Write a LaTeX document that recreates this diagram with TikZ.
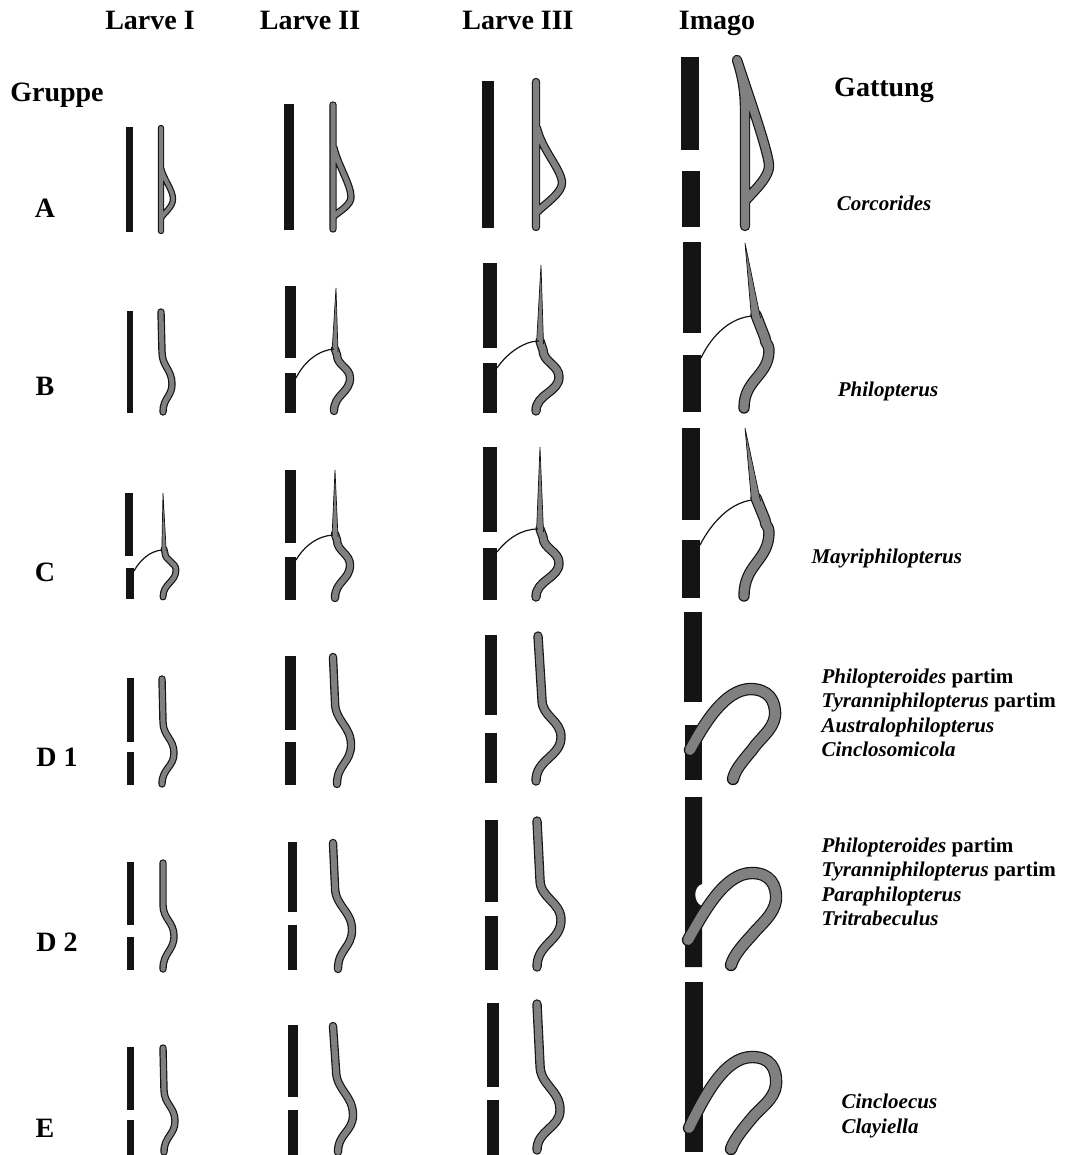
\documentclass[tikz,border=0pt]{standalone}
\usepackage{fontspec}
\setmainfont{Liberation Serif}
\definecolor{ink}{gray}{0.08}
\definecolor{stip}{gray}{0.5}

% one stippled strand: black rim first, grey core on top
\newcommand\strand[2]{%
  \draw[ink, line width=\dimexpr#1+2.4pt\relax, line cap=round, line join=round] #2;
  \draw[stip, line width=#1, line cap=round, line join=round] #2;}
% S-shaped strand: width, top, start of bend, bulge, end
\newcommand\sbend[9]{%
  \strand{#1}{(#2,#3) -- (#4,#5) .. controls (#4,{#5+0.45*(#7-#5)}) and (#6,{#7-0.45*(#7-#5)}) .. (#6,#7)
    .. controls (#6,{#7+0.45*(#9-#7)}) and (#8,{#9-0.5*(#9-#7)}) .. (#8,#9)}}
% thin tapering tip above a junction
\newcommand\taper[5]{\filldraw[fill=stip, draw=ink, line width=0.7pt] ({#3-#5},#4) -- (#1,#2) -- ({#3+#5},#4);}

\tikzset{
  head/.style={font=\fontsize{28}{30}\selectfont\bfseries},
  genus/.style={font=\fontsize{21}{24.5}\selectfont\bfseries, align=left},
  pillar/.style={fill=ink},
  link/.style={ink, line width=1.2pt},
}

\begin{document}
\begin{tikzpicture}[x=1pt, y=-1pt]
\useasboundingbox (0,0) rectangle (1067,1155);

% column and row headings
\node[head, anchor=base] (larve1) at (150,30) {Larve I};
\node[head, anchor=base] (larve2) at (310,30) {Larve II};
\node[head, anchor=base] (larve3) at (518,30) {Larve III};
\node[head, anchor=base] (imago) at (717,30) {Imago};
\node[head, anchor=base] (gruppe) at (57,102) {Gruppe};
\node[head, anchor=base] (gattung) at (884,97) {Gattung};
\node[head] (grA) at (45,208) {A};
\node[head] (grB) at (45,386) {B};
\node[head] (grC) at (45,572) {C};
\node[head] (grD1) at (57,757) {D 1};
\node[head] (grD2) at (57,942) {D 2};
\node[head] (grE) at (45,1128) {E};

% genera
\node[genus] (corc) at (884,203) {\textit{Corcorides}};
\node[genus] (phil) at (888,391) {\textit{Philopterus}};
\node[genus, anchor=west] (mayr) at (808,558) {\textit{Mayriphilopterus}};
\node[genus, anchor=west] (dA) at (818,713) {\textit{Philopteroides} partim\\\textit{Tyranniphilopterus} partim\\\textit{Australophilopterus}\\\textit{Cinclosomicola}};
\node[genus, anchor=west] (dB) at (818,882) {\textit{Philopteroides} partim\\\textit{Tyranniphilopterus} partim\\\textit{Paraphilopterus}\\\textit{Tritrabeculus}};
\node[genus, anchor=west] (gE) at (838,1116) {\textit{Cincloecus}\\\textit{Clayiella}};

% --- A
\fill[pillar] (126,127) rectangle (133,232);
\strand{4pt}{(161,128) -- (161,231) (161,168) .. controls (164,180) and (173,190) .. (173,199) .. controls (173,207) and (164,213) .. (161,218)}
\fill[pillar] (284,104) rectangle (294,230);
\strand{5pt}{(333,105) -- (333,229) (334,148) .. controls (338,165) and (351,185) .. (351,197) .. controls (351,205) and (340,211) .. (334,216)}
\fill[pillar] (482,81) rectangle (494,228);
\strand{6pt}{(536,82) -- (536,227) (537,128) .. controls (542,150) and (562,170) .. (562,183) .. controls (562,193) and (545,204) .. (537,212)}
\fill[pillar] (681,57) rectangle (699,150);
\fill[pillar] (682,171) rectangle (700,227);
\strand{8pt}{(737,60) .. controls (742,75) and (745,90) .. (745,110) -- (745,226) (737,60) .. controls (745,85) and (768,150) .. (769,165) .. controls (770,176) and (755,190) .. (746,200)}

% --- B
\fill[pillar] (127,311) rectangle (133,413);
\sbend{5pt}{161}{312}{162}{352}{172}{384}{163}{412}
\fill[pillar] (285,286) rectangle (296,358);
\fill[pillar] (285,373) rectangle (296,413);
\sbend{6pt}{335}{349}{337}{355}{350}{378}{334}{411}
\taper{336}{288}{335}{352}{3}
\draw[link] (296,378) .. controls (305,360) and (320,350) .. (334,349);
\fill[pillar] (483,263) rectangle (497,348);
\fill[pillar] (483,363) rectangle (497,413);
\sbend{7pt}{540}{341}{543}{350}{559}{377}{536}{411}
\taper{541}{265}{540}{344}{3.5}
\draw[link] (497,368) .. controls (508,352) and (525,341) .. (539,341);
\fill[pillar] (683,242) rectangle (701,333);
\fill[pillar] (683,355) rectangle (701,412);
\sbend{9pt}{756}{315}{765}{338}{769}{350}{744}{408}
\taper{745}{243}{756}{318}{4.5}
\draw[link] (701,358) .. controls (712,335) and (730,318) .. (752,316);

% --- C
\fill[pillar] (125,493) rectangle (133,556);
\fill[pillar] (126,568) rectangle (134,599);
\sbend{4.5pt}{164}{549}{165}{553}{176}{570}{163}{597}
\taper{163}{493}{164}{551}{2.2}
\draw[link] (134,571) .. controls (140,560) and (150,551) .. (162,550);
\fill[pillar] (285,470) rectangle (296,543);
\fill[pillar] (285,557) rectangle (296,600);
\sbend{6pt}{335}{534}{337}{540}{350}{565}{335}{598}
\taper{335}{470}{335}{537}{3}
\draw[link] (296,560) .. controls (305,545) and (318,536) .. (333,535);
\fill[pillar] (483,447) rectangle (497,532);
\fill[pillar] (483,548) rectangle (497,600);
\sbend{7pt}{540}{529}{543}{537}{559}{563}{536}{597}
\taper{540}{447}{540}{532}{3.5}
\draw[link] (497,552) .. controls (508,538) and (522,529) .. (538,529);
\fill[pillar] (682,428) rectangle (700,520);
\fill[pillar] (682,540) rectangle (700,598);
\sbend{9pt}{756}{498}{765}{520}{769}{532}{744}{596}
\taper{745}{428}{756}{501}{4.5}
\draw[link] (700,545) .. controls (712,522) and (730,503) .. (752,500);

% --- D 1
\fill[pillar] (127,678) rectangle (134,742);
\fill[pillar] (127,752) rectangle (134,785);
\sbend{5pt}{162}{679}{163}{722}{174}{753}{162}{784}
\fill[pillar] (285,656) rectangle (296,730);
\fill[pillar] (285,742) rectangle (296,785);
\sbend{6pt}{333}{657}{335}{702}{351}{745}{337}{784}
\fill[pillar] (485,635) rectangle (497,715);
\fill[pillar] (485,733) rectangle (497,783);
\sbend{7pt}{538}{636}{542}{700}{561}{737}{536}{781}
\fill[pillar] (684,612) rectangle (702,702);
\fill[pillar] (685,725) rectangle (702,780);
\strand{10pt}{(690,750) .. controls (705,722) and (725,690) .. (750,689) .. controls (768,689) and (776,700) .. (775,716) .. controls (773,730) and (760,738) .. (752,750) .. controls (742,762) and (735,770) .. (733,779)}

% --- D 2
\fill[pillar] (127,862) rectangle (134,925);
\fill[pillar] (127,937) rectangle (134,970);
\sbend{5pt}{163}{863}{163}{905}{174}{936}{163}{969}
\fill[pillar] (288,842) rectangle (297,912);
\fill[pillar] (288,925) rectangle (297,970);
\sbend{6pt}{333}{843}{335}{887}{352}{930}{338}{969}
\fill[pillar] (485,820) rectangle (498,902);
\fill[pillar] (485,916) rectangle (498,970);
\sbend{7pt}{537}{821}{540}{880}{561}{920}{537}{967}
\fill[pillar] (685,797) -- (702,797) -- (702,884) .. controls (693,886) and (693,903) .. (702,906) -- (702,967) -- (685,967) -- cycle;
\strand{10pt}{(688,940) .. controls (705,910) and (725,873) .. (752,873) .. controls (770,873) and (777,885) .. (776,900) .. controls (774,915) and (760,925) .. (752,935) .. controls (742,946) and (734,955) .. (731,965)}

% --- E
\fill[pillar] (127,1047) rectangle (134,1110);
\fill[pillar] (127,1120) rectangle (134,1155);
\sbend{5pt}{163}{1048}{164}{1090}{175}{1121}{164}{1152}
\fill[pillar] (288,1025) rectangle (298,1097);
\fill[pillar] (288,1110) rectangle (298,1155);
\sbend{6pt}{333}{1026}{336}{1070}{353}{1115}{338}{1152}
\fill[pillar] (487,1003) rectangle (499,1087);
\fill[pillar] (487,1100) rectangle (499,1155);
\sbend{7pt}{537}{1004}{540}{1065}{560}{1110}{537}{1150}
\fill[pillar] (685,982) rectangle (703,1152);
\strand{10pt}{(689,1128) .. controls (705,1095) and (725,1057) .. (752,1057) .. controls (770,1057) and (777,1068) .. (776,1085) .. controls (774,1100) and (760,1108) .. (752,1118) .. controls (742,1130) and (734,1140) .. (731,1149)}
\end{tikzpicture}
\end{document}
